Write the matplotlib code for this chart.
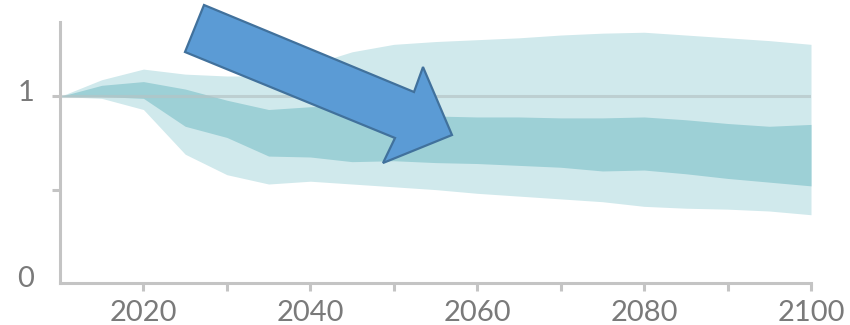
import matplotlib.pyplot as plt
import matplotlib.transforms as mtransforms
from matplotlib.patches import Polygon

# values, every 5 years
years = list(range(2010, 2101, 5))
outer_hi = [1.00, 1.09, 1.147, 1.12, 1.11, 1.11, 1.17, 1.24, 1.28, 1.295, 1.305,
            1.315, 1.33, 1.34, 1.345, 1.33, 1.315, 1.30, 1.28]
outer_lo = [1.00, 0.99, 0.93, 0.69, 0.58, 0.53, 0.545, 0.53, 0.515, 0.50, 0.48,
            0.465, 0.45, 0.435, 0.41, 0.40, 0.395, 0.385, 0.365]
inner_hi = [1.00, 1.06, 1.08, 1.04, 0.98, 0.93, 0.945, 0.95, 0.91, 0.895, 0.89,
            0.89, 0.885, 0.885, 0.89, 0.875, 0.855, 0.84, 0.85]
inner_lo = [1.00, 1.00, 0.99, 0.84, 0.78, 0.68, 0.675, 0.65, 0.655, 0.645, 0.64,
            0.63, 0.62, 0.60, 0.605, 0.585, 0.56, 0.54, 0.52]

xticks = list(range(2010, 2101, 10))
xlabels = ["" if y % 20 else str(y) for y in xticks]
xlabels[0] = ""
yticks = [0, 0.5, 1]
ylabels = ["0", "", "1"]

# arrow outline (image pixels, annotation shape)
arrow_px = [(204, 5), (414, 92), (423, 67), (452, 135), (383, 163), (395, 138), (185, 52)]

plt.rcParams['font.family'] = ['Lato', 'DejaVu Sans']
W, H = 850, 325
fig = plt.figure(figsize=(W / 100, H / 100), dpi=100)
ax = fig.add_axes([60 / W, 1 - 282.7 / H, (811 - 60) / W, (282.7 - 22) / H])

ax.fill_between(years, outer_lo, outer_hi, color="#d0e9ec", linewidth=0)
ax.fill_between(years, inner_lo, inner_hi, color="#9dd0d6", linewidth=0)
ax.plot([2010, 2100], [1, 1], color="#b5c4c6", lw=2.2, alpha=0.7, solid_capstyle="butt")

ax.set_xlim(2010, 2100)
ax.set_ylim(0, 1.40)
for s in ["top", "right"]:
    ax.spines[s].set_visible(False)
for s in ["left", "bottom"]:
    ax.spines[s].set_color("#c4c4c4")
    ax.spines[s].set_linewidth(2.2)

ax.set_xticks(xticks)
ax.set_xticklabels(xlabels)
ax.set_yticks(yticks)
ax.set_yticklabels(ylabels)
ax.tick_params(axis="both", colors="#c4c4c4", width=2.2, length=5.5,
               labelcolor="#7a7a7a", labelsize=21)
ax.tick_params(axis="x", pad=7)
ax.tick_params(axis="y", pad=13)
# no tick marks in the corner
ax.xaxis.get_major_ticks()[0].tick1line.set_visible(False)
ax.yaxis.get_major_ticks()[0].tick1line.set_visible(False)

shift = mtransforms.ScaledTranslation(0, 6 / 100, fig.dpi_scale_trans)
for lab in ax.get_yticklabels():
    lab.set_transform(lab.get_transform() + shift)

pts = [(x / W, 1 - y / H) for x, y in arrow_px]
fig.patches.append(Polygon(pts, closed=True, transform=fig.transFigure,
                           facecolor="#5b9bd5", edgecolor="#41719c", lw=1.6, zorder=10))

plt.savefig("out.png", dpi=100)
